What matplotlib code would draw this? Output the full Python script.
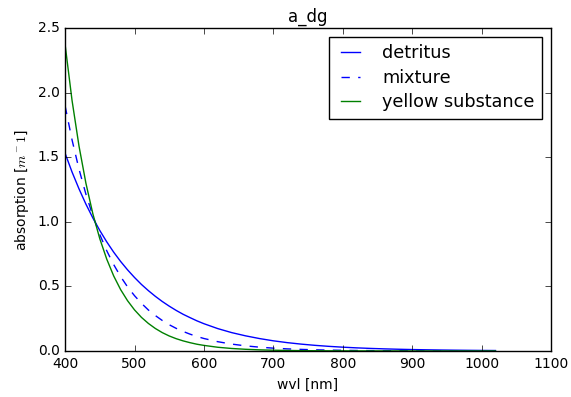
import matplotlib
matplotlib.use("Agg")
import matplotlib.pyplot as plt

plt.style.use("classic")
plt.rcParams["font.family"] = ["DejaVu Sans"]

wvl = [400, 410, 420, 430, 440, 450, 460, 470, 480, 490, 500, 510, 520, 530, 540,
       550, 560, 570, 580, 590, 600, 620, 640, 660, 680, 700, 720, 740, 760, 780,
       800, 820, 840, 860, 880, 900, 920, 940, 960, 980, 1000, 1020]

detritus = [1.531, 1.386, 1.256, 1.137, 1.030, 0.933, 0.845, 0.765, 0.693, 0.628,
            0.569, 0.515, 0.467, 0.423, 0.383, 0.347, 0.314, 0.284, 0.258, 0.233,
            0.211, 0.173, 0.142, 0.117, 0.096, 0.0785, 0.0644, 0.0529, 0.0434,
            0.0356, 0.0292, 0.0239, 0.0196, 0.0161, 0.0132, 0.0108, 0.0089,
            0.0073, 0.0060, 0.0049, 0.0040, 0.0033]

mixture = [1.898, 1.635, 1.409, 1.214, 1.046, 0.901, 0.776, 0.669, 0.576, 0.496,
           0.428, 0.369, 0.317, 0.274, 0.236, 0.203, 0.175, 0.151, 0.130, 0.112,
           0.0964, 0.0716, 0.0531, 0.0394, 0.0293, 0.0217, 0.0161, 0.0120, 0.0089,
           0.0066, 0.0049, 0.0036, 0.0027, 0.0020, 0.0015, 0.0011, 0.0008, 0.0006,
           0.0005, 0.0003, 0.0002, 0.0002]

yellow = [2.373, 1.941, 1.588, 1.299, 1.062, 0.869, 0.711, 0.581, 0.475, 0.389,
          0.318, 0.260, 0.213, 0.174, 0.142, 0.116, 0.095, 0.078, 0.064, 0.052,
          0.043, 0.0285, 0.0191, 0.0128, 0.0085, 0.0057, 0.0038, 0.0025, 0.0017,
          0.0011, 0.0008, 0.0005, 0.0003, 0.0002, 0.0002, 0.0001, 0.0001, 0.0,
          0.0, 0.0, 0.0, 0.0]

fig = plt.figure(figsize=(5.71, 3.97), dpi=100, facecolor="white")
ax = fig.add_axes([0.114, 0.116, 0.851, 0.813])
ax.plot(wvl, detritus, color="b", linestyle="-", label="detritus")
ax.plot(wvl, mixture, color="b", linestyle="--", label="mixture")
ax.plot(wvl, yellow, color="g", linestyle="-", label="yellow substance")
ax.set_xlim(400, 1100)
ax.set_ylim(0, 2.5)
ax.set_xticks([400, 500, 600, 700, 800, 900, 1000, 1100])
ax.set_yticks([0.0, 0.5, 1.0, 1.5, 2.0, 2.5])
ax.set_title("a_dg", fontsize=12)
ax.set_xlabel("wvl [nm]", fontsize=10)
ax.set_ylabel("absorption [$m^-1$]", fontsize=10)
ax.tick_params(labelsize=10)
ax.legend(loc="upper right", fontsize=12.7, handlelength=1.67,
          handletextpad=0.95, labelspacing=0.36, borderpad=0.42,
          borderaxespad=0.5)
fig.savefig("out.png", dpi=100, facecolor="white")
